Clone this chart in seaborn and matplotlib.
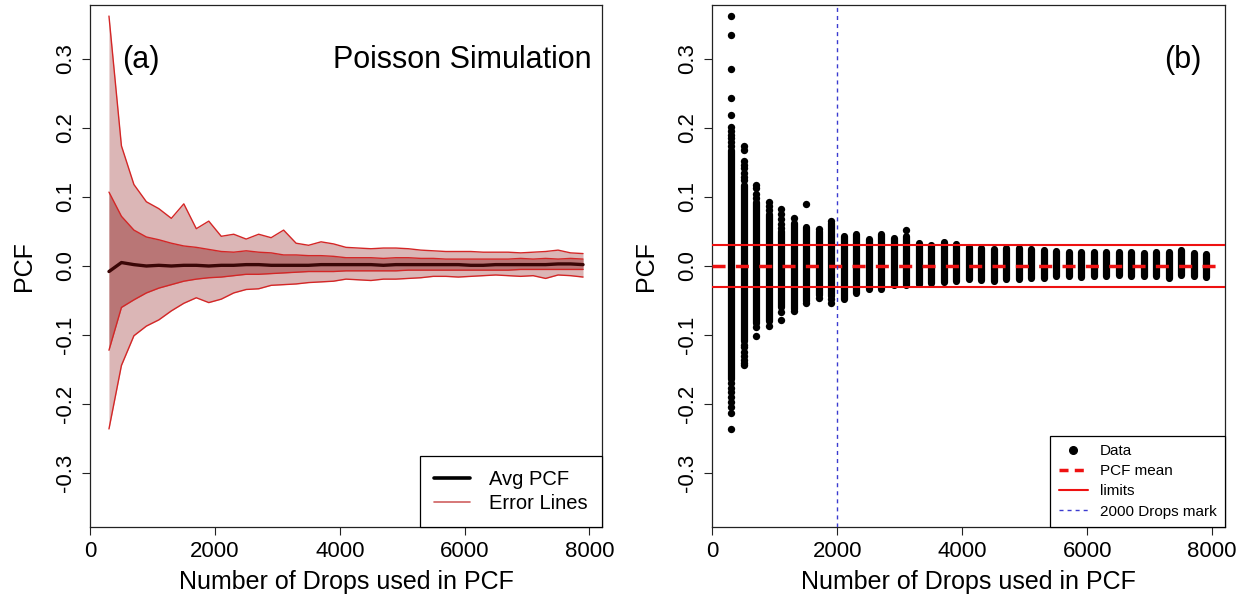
import numpy as np
import pandas as pd
import matplotlib
matplotlib.use("Agg")
import matplotlib.pyplot as plt
import seaborn as sns
from matplotlib.lines import Line2D

# ---------------- data ----------------
drops = [300, 500, 700, 900, 1100, 1300, 1500, 1700, 1900, 2100, 2300, 2500, 2700,
         2900, 3100, 3300, 3500, 3700, 3900, 4100, 4300, 4500, 4700, 4900, 5100,
         5300, 5500, 5700, 5900, 6100, 6300, 6500, 6700, 6900, 7100, 7300, 7500,
         7700, 7900]

pcf_max = [0.362, 0.174, 0.118, 0.093, 0.083, 0.069, 0.090, 0.054, 0.065, 0.043,
           0.046, 0.039, 0.046, 0.041, 0.052, 0.033, 0.030, 0.035, 0.032, 0.027,
           0.026, 0.025, 0.026, 0.026, 0.025, 0.023, 0.022, 0.021, 0.021, 0.021,
           0.020, 0.020, 0.020, 0.019, 0.020, 0.021, 0.023, 0.019, 0.018]

pcf_min = [-0.236, -0.144, -0.101, -0.087, -0.078, -0.065, -0.054, -0.046, -0.053,
           -0.048, -0.039, -0.034, -0.033, -0.028, -0.027, -0.026, -0.024, -0.023,
           -0.022, -0.019, -0.020, -0.021, -0.019, -0.019, -0.018, -0.017, -0.015,
           -0.015, -0.016, -0.015, -0.014, -0.013, -0.014, -0.015, -0.014, -0.018,
           -0.013, -0.014, -0.016]

err_hi = [0.107, 0.072, 0.052, 0.042, 0.038, 0.033, 0.029, 0.027, 0.024, 0.021,
          0.020, 0.022, 0.020, 0.019, 0.016, 0.016, 0.015, 0.015, 0.014, 0.012,
          0.012, 0.012, 0.011, 0.012, 0.012, 0.011, 0.011, 0.010, 0.010, 0.010,
          0.010, 0.010, 0.010, 0.011, 0.010, 0.011, 0.010, 0.011, 0.010]

err_lo = [-0.122, -0.060, -0.049, -0.039, -0.032, -0.027, -0.022, -0.019, -0.017,
          -0.016, -0.014, -0.012, -0.012, -0.011, -0.010, -0.009, -0.008, -0.008,
          -0.008, -0.007, -0.007, -0.007, -0.007, -0.007, -0.006, -0.006, -0.006,
          -0.006, -0.006, -0.006, -0.006, -0.006, -0.006, -0.005, -0.005, -0.005,
          -0.005, -0.005, -0.005]

avg_pcf = [-0.008, 0.005, 0.002, 0.000, 0.001, 0.000, 0.001, 0.001, 0.000, 0.001,
           0.001, 0.002, 0.002, 0.001, 0.001, 0.001, 0.001, 0.002, 0.002, 0.002,
           0.002, 0.002, 0.001, 0.002, 0.002, 0.002, 0.002, 0.002, 0.002, 0.001,
           0.001, 0.002, 0.002, 0.002, 0.002, 0.002, 0.003, 0.003, 0.002]

# dense (solid) part of each data column in panel (b)
dense_hi = [0.168, 0.118, 0.093, 0.075, 0.050, 0.062, 0.056, 0.051, 0.063, 0.043,
            0.046, 0.039, 0.046, 0.041, 0.043, 0.033, 0.030, 0.035, 0.032, 0.027,
            0.026, 0.025, 0.026, 0.026, 0.025, 0.023, 0.022, 0.021, 0.021, 0.021,
            0.020, 0.020, 0.020, 0.019, 0.020, 0.021, 0.023, 0.019, 0.018]
dense_lo = [-0.163, -0.108, -0.083, -0.080, -0.060, -0.062, -0.050, -0.042, -0.044,
            -0.048, -0.039, -0.034, -0.033, -0.028, -0.027, -0.026, -0.024, -0.023,
            -0.022, -0.019, -0.020, -0.021, -0.019, -0.019, -0.018, -0.017, -0.015,
            -0.015, -0.016, -0.015, -0.014, -0.013, -0.014, -0.015, -0.014, -0.018,
            -0.013, -0.014, -0.016]

# isolated points visible outside the dense parts
iso_drops = [300] * 19 + [500] * 15 + [700] * 6 + [900] * 4 + [1100] * 7 + \
            [1300] * 2 + [1500] * 2 + [1700] * 2 + [1900] * 3 + [3100]
iso_pcf = [0.362, 0.335, 0.285, 0.243, 0.218, 0.201, 0.196, 0.190, 0.185, 0.179,
           0.174, -0.170, -0.176, -0.182, -0.190, -0.197, -0.204, -0.213, -0.236,
           0.174, 0.168, 0.152, 0.147, 0.142, 0.135, 0.129, 0.124, -0.114, -0.118,
           -0.124, -0.130, -0.136, -0.141, -0.144,
           0.118, 0.113, 0.104, 0.098, -0.088, -0.101,
           0.093, 0.087, 0.081, -0.087,
           0.083, 0.075, 0.068, 0.061, 0.055, -0.066, -0.078,
           0.069, -0.065,
           0.090, -0.054,
           0.054, -0.046,
           0.065, -0.053, -0.048,
           0.052]

pcf_mean = 0.0
limits = [-0.03, 0.03]
mark_drops = 2000

x_ticks = [0, 2000, 4000, 6000, 8000]
y_ticks = [-0.3, -0.2, -0.1, 0.0, 0.1, 0.2, 0.3]
y_ticklabels = ["-0.3", "-0.2", "-0.1", "0.0", "0.1", "0.2", "0.3"]

df = pd.DataFrame({"drops": drops, "pcf_max": pcf_max, "pcf_min": pcf_min,
                   "err_hi": err_hi, "err_lo": err_lo, "avg": avg_pcf,
                   "dense_hi": dense_hi, "dense_lo": dense_lo})
iso = pd.DataFrame({"drops": iso_drops, "pcf": iso_pcf})

# ---------------- style ----------------
sns.set_theme(style="ticks")
plt.rcParams["font.family"] = ["Liberation Sans", "DejaVu Sans"]
plt.rcParams["lines.scale_dashes"] = False
plt.rcParams["text.color"] = "black"
plt.rcParams["axes.labelcolor"] = "black"

fig = plt.figure(figsize=(12.45, 6.07), dpi=100)
W, H = 1245, 607
ax1 = fig.add_axes([90 / W, 1 - 527 / H, (602 - 90) / W, (527 - 5) / H])
ax2 = fig.add_axes([712 / W, 1 - 527 / H, (1225 - 712) / W, (527 - 5) / H])


def style_axes(ax):
    ax.set_xlim(-4, 8204)
    ax.set_ylim(-0.378, 0.378)
    ax.set_xticks(x_ticks)
    ax.set_xticklabels([str(t) for t in x_ticks])
    ax.set_yticks(y_ticks)
    ax.set_yticklabels(y_ticklabels, rotation=90, va="center")
    for s in ax.spines.values():
        s.set_visible(True)
        s.set_color("#222222")
        s.set_linewidth(0.9)
    ax.tick_params(axis="both", direction="out", length=5.8, width=0.8,
                   color="#222222", labelsize=16, labelcolor="black", pad=4)
    ax.set_xlabel("Number of Drops used in PCF", fontsize=18, labelpad=6,
                  color="black")
    ax.set_ylabel("PCF", fontsize=18, labelpad=14, color="black")


# ---------------- panel (a) ----------------
ax1.fill_between(df["drops"], df["pcf_min"], df["pcf_max"], color="#dbb6b6", lw=0)
ax1.fill_between(df["drops"], df["err_lo"], df["err_hi"], color="#b97676", lw=0)
for col in ["pcf_max", "pcf_min", "err_hi", "err_lo"]:
    sns.lineplot(data=df, x="drops", y=col, ax=ax1, color="#d42626", lw=1.0,
                 estimator=None, legend=False)
sns.lineplot(data=df, x="drops", y="avg", ax=ax1, color="#3a0606", lw=2.4,
             estimator=None, legend=False)
style_axes(ax1)
ax1.text(0.063, 0.895, "(a)", transform=ax1.transAxes, fontsize=22,
         ha="left", va="center", color="black")
ax1.text(0.98, 0.895, "Poisson Simulation", transform=ax1.transAxes, fontsize=22,
         ha="right", va="center", color="black")
h_a = [Line2D([], [], color="black", lw=2.6),
       Line2D([], [], color="#d06060", lw=1.2)]
leg_a = ax1.legend(h_a, ["Avg PCF", "Error Lines"], loc="lower right",
                   bbox_to_anchor=(1, 0), borderaxespad=0, fancybox=False,
                   framealpha=1, edgecolor="black", fontsize=14.5,
                   handlelength=1.8, handletextpad=0.95, labelspacing=0.25,
                   borderpad=0.7)
leg_a.get_frame().set_linewidth(0.9)

# ---------------- panel (b) ----------------
ax2.vlines(df["drops"], df["dense_lo"], df["dense_hi"], color="black", lw=5.2,
           capstyle="round", zorder=2)
sns.scatterplot(data=iso, x="drops", y="pcf", ax=ax2, color="black", s=28,
                linewidth=0, zorder=3, legend=False)
ax2.axhline(pcf_mean, color="#ee1111", lw=2.5, dashes=(9.4, 7.4), zorder=4)
for lim in limits:
    ax2.axhline(lim, color="#ee1111", lw=1.5, zorder=4)
ax2.axvline(mark_drops, color="#3b3bd0", lw=1.0, dashes=(2.9, 2.9), zorder=4)
style_axes(ax2)
ax2.text(0.955, 0.895, "(b)", transform=ax2.transAxes, fontsize=22,
         ha="right", va="center", color="black")
h_b = [Line2D([], [], color="black", marker="o", ls="none", markersize=5.5),
       Line2D([], [], color="#ee1111", lw=2.5, dashes=(6.5, 4.5)),
       Line2D([], [], color="#ee1111", lw=1.5),
       Line2D([], [], color="#3b3bd0", lw=1.0, dashes=(2.9, 2.9))]
leg_b = ax2.legend(h_b, ["Data", "PCF mean", "limits", "2000 Drops mark"],
                   loc="lower right", bbox_to_anchor=(1, 0), borderaxespad=0,
                   fancybox=False, framealpha=1, edgecolor="black", fontsize=11,
                   handlelength=1.9, handletextpad=0.8, labelspacing=0.4,
                   borderpad=0.55)
leg_b.get_frame().set_linewidth(0.9)

fig.savefig("out.png", dpi=100)
